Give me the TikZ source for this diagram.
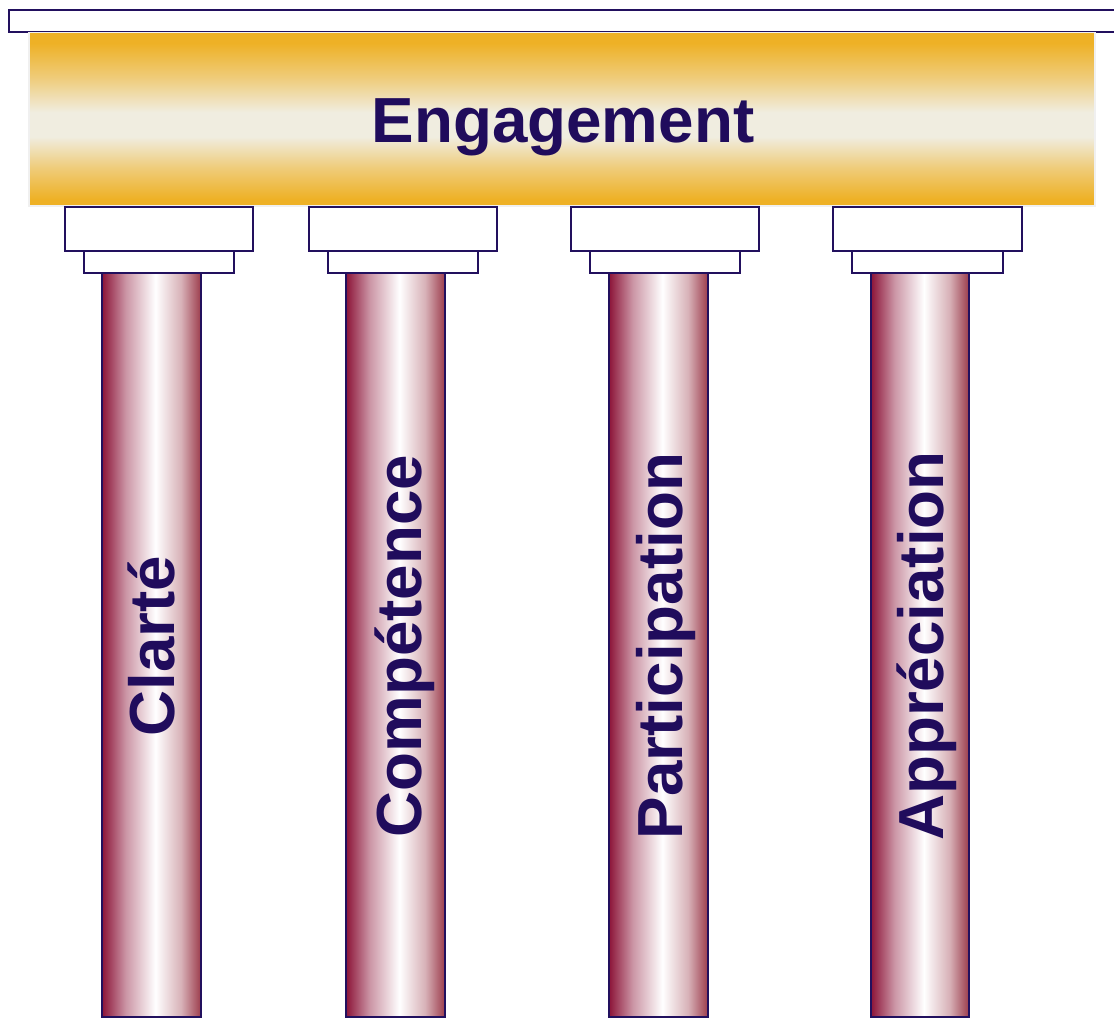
\documentclass[tikz,border=0pt]{standalone}
\usepackage{fontspec}
\setmainfont{Liberation Sans}
\definecolor{navy}{RGB}{34,16,94}
\definecolor{txt}{RGB}{32,12,92}
\definecolor{goldc}{RGB}{238,177,38}
\definecolor{cream}{RGB}{240,237,224}
\definecolor{shL}{RGB}{140,20,56}
\definecolor{shR}{RGB}{156,60,76}
\pgfdeclarehorizontalshading{shaftshade}{100bp}{color(0bp)=(shL); color(25bp)=(shL); color(37bp)=(shL!45!white); color(52bp)=(white); color(65bp)=(shR!40!white); color(75bp)=(shR); color(100bp)=(shR)}
\pgfdeclareverticalshading{beamshade}{100bp}{color(0bp)=(goldc); color(27bp)=(goldc); color(36bp)=(goldc!55!cream); color(45bp)=(cream); color(52bp)=(cream); color(62bp)=(goldc!55!cream); color(72bp)=(goldc); color(100bp)=(goldc)}
\tikzset{
  outline/.style={draw=navy, line width=1.1pt},
  plainbox/.style={outline, fill=white},
  shaftbox/.style={outline, shading=shaftshade},
  beam/.style={draw=gray!12, line width=0.8pt, shading=beamshade},
  bigtext/.style={text=txt, inner sep=0pt, font=\bfseries\fontsize{47.8}{50}\selectfont},
}
\begin{document}
\begin{tikzpicture}[x=0.75pt,y=-0.75pt]
\path[use as bounding box, clip] (0,0) rectangle (1114,1023);
\fill[white] (0,0) rectangle (1114,1023);
% top slab
\draw[plainbox] (9,10) rectangle (1130,32);
% beam
\path[beam] (29,32.6) rectangle (1095,206);
\node[bigtext, anchor=base] (engagement) at (563,143) {Engagement};
% columns
\foreach \ul/\ur/\ll/\lr/\sl/\sr/\lab/\bx/\nm in {
  65/253/84/234/102/201/Clarté/174/clarte,
  309/497/328/478/346/445/Compétence/421/competence,
  571/759/590/740/609/708/Participation/682/participation,
  833/1022/852/1003/871/969/Appréciation/943/appreciation}{
  \path[shaftbox] (\sl,272) rectangle (\sr,1017);
  \draw[plainbox] (\ll,251) rectangle (\lr,273);
  \draw[plainbox] (\ul,207) rectangle (\ur,251);
  \node[bigtext, rotate=90, anchor=base] (\nm) at (\bx,646) {\lab};
}
\end{tikzpicture}
\end{document}
